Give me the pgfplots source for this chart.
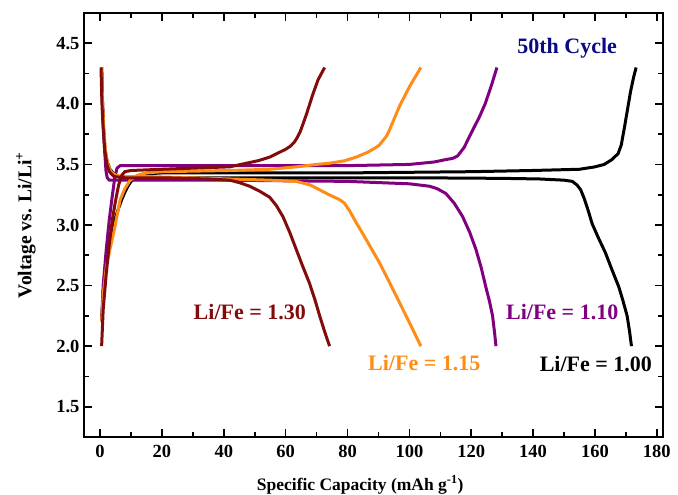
\documentclass[border=0pt]{standalone}
\usepackage{pgfplots}
\pgfplotsset{compat=1.18}
\usepackage{fontspec}
\setmainfont{Liberation Serif}
\definecolor{dred}{RGB}{130,12,12}
\definecolor{orng}{RGB}{255,140,20}
\definecolor{purp}{RGB}{128,0,128}
\definecolor{nvy}{RGB}{10,10,130}
\begin{document}
\begin{tikzpicture}
\path[use as bounding box] (-84pt,-58pt) rectangle (594pt,437pt);
\begin{axis}[
  at={(0pt,0pt)}, anchor=south west,
  scale only axis, width=579pt, height=424pt,
  xmin=-5.2, xmax=182, ymin=1.25, ymax=4.75,
  xtick={0,20,...,180}, minor x tick num=1,
  ytick={1.5,2.0,2.5,3.0,3.5,4.0,4.5}, minor y tick num=1,
  yticklabel style={/pgf/number format/fixed,/pgf/number format/fixed zerofill,/pgf/number format/precision=1, xshift=-1pt},
  xticklabel style={yshift=-5pt},
  /pgf/number format/assume math mode=true,
  tick label style={font=\fontsize{18.5}{18.5}\selectfont\bfseries},
  axis line style={line width=2pt},
  major tick length=8pt, minor tick length=5pt,
  every tick/.style={line width=1.6pt, black},
  xlabel={Specific Capacity (mAh g\textsuperscript{-1})},
  ylabel={Voltage vs. Li/Li\textsuperscript{+}},
  xlabel style={font=\fontsize{17.5}{17.5}\selectfont\bfseries, at={(axis description cs:0.477,0)}, anchor=center, yshift=-48pt},
  ylabel style={font=\fontsize{19.5}{19.5}\selectfont\bfseries, at={(axis description cs:0,0.5)}, anchor=center, yshift=58pt},
  every axis plot/.append style={line width=3pt, line join=round},
]
% Li/Fe = 1.00 charge
\addplot[black] coordinates {(0.5,2.2)(1,2.45)(2,2.68)(3,2.83)(4,2.96)(5,3.06)(6,3.14)(7,3.21)(8,3.27)(9,3.32)(10,3.36)(12,3.40)(14,3.42)(20,3.43)(40,3.43)(80,3.43)(120,3.44)(140,3.45)(155,3.46)(160,3.48)(163,3.50)(165.5,3.54)(167.5,3.59)(168.5,3.66)(169.5,3.80)(170.5,3.95)(171.5,4.10)(172.5,4.22)(173.3,4.30)};
% Li/Fe = 1.00 discharge
\addplot[black] coordinates {(0.5,4.30)(0.8,4.0)(1.1,3.8)(1.6,3.62)(2.3,3.52)(3.2,3.46)(4.5,3.42)(6,3.40)(9,3.39)(20,3.39)(60,3.39)(100,3.39)(130,3.385)(142,3.38)(150,3.37)(152.7,3.36)(154.2,3.33)(155.4,3.29)(156.5,3.22)(157.8,3.12)(159.1,3.01)(161,2.90)(163.4,2.77)(165.5,2.63)(167.7,2.49)(169,2.38)(170.4,2.25)(171.2,2.12)(171.8,2.0)};
% Li/Fe = 1.10 charge
\addplot[purp] coordinates {(0.5,2.2)(1,2.5)(2,2.8)(3,3.05)(4,3.25)(4.8,3.40)(5.5,3.47)(6.5,3.49)(10,3.49)(40,3.49)(80,3.49)(100,3.50)(108,3.52)(111.8,3.54)(114,3.55)(115.6,3.57)(116.5,3.60)(117.7,3.64)(120,3.76)(122.6,3.89)(124.5,4.0)(126.5,4.15)(128.3,4.30)};
% Li/Fe = 1.10 discharge
\addplot[purp] coordinates {(0.5,4.30)(0.8,4.0)(1.1,3.8)(1.5,3.6)(1.9,3.45)(2.3,3.39)(3,3.37)(5,3.37)(40,3.37)(80,3.36)(90,3.35)(100,3.34)(106.5,3.32)(109,3.30)(111.8,3.26)(114.5,3.18)(117.2,3.07)(119.5,2.94)(121.5,2.80)(123.2,2.65)(124.7,2.49)(125.9,2.37)(126.9,2.25)(127.5,2.12)(128,2.0)};
% Li/Fe = 1.15 charge
\addplot[orng] coordinates {(0.5,2.2)(1,2.42)(2,2.65)(3.2,2.8)(4.5,2.95)(5.5,3.08)(6.5,3.21)(8,3.30)(9.7,3.37)(12,3.41)(15,3.43)(20,3.44)(41.9,3.45)(55,3.46)(63.4,3.48)(70,3.50)(74.2,3.51)(79,3.53)(82.8,3.56)(86.5,3.60)(89.2,3.64)(90.3,3.66)(92.5,3.73)(93.5,3.78)(96.8,3.98)(100,4.14)(103.7,4.30)};
% Li/Fe = 1.15 discharge
\addplot[orng] coordinates {(0.5,4.30)(0.8,4.0)(1.2,3.8)(1.7,3.62)(2.5,3.50)(3.5,3.44)(5,3.41)(8,3.40)(15,3.40)(41.9,3.38)(55,3.37)(63.4,3.36)(68,3.33)(71,3.29)(74,3.25)(77.4,3.21)(79,3.18)(80.6,3.12)(82.8,3.02)(84.9,2.93)(87.6,2.81)(90.3,2.69)(93.5,2.53)(96.8,2.36)(100.3,2.18)(103.7,2.0)};
% Li/Fe = 1.30 charge
\addplot[dred] coordinates {(0.5,2.0)(1,2.3)(2,2.6)(3,2.85)(4,3.05)(5,3.2)(6,3.33)(7,3.41)(8,3.44)(10,3.45)(20,3.46)(41.9,3.48)(47.3,3.51)(51,3.53)(54.8,3.56)(58,3.60)(60,3.625)(61.5,3.65)(62.7,3.68)(63.7,3.72)(64.7,3.77)(65.7,3.84)(66.8,3.92)(68.8,4.08)(70.5,4.20)(72.6,4.30)};
% Li/Fe = 1.30 discharge
\addplot[dred] coordinates {(0.3,4.30)(0.6,4.0)(1,3.8)(1.5,3.62)(2.2,3.5)(3,3.44)(4.5,3.40)(8,3.39)(20,3.39)(35,3.38)(41.9,3.37)(45,3.35)(48.4,3.32)(51.5,3.28)(54.8,3.23)(57,3.16)(59.1,3.07)(61.3,2.94)(63.4,2.80)(65.5,2.66)(67.7,2.52)(69.5,2.38)(71,2.25)(72.6,2.12)(74.2,2.0)};
\node[font=\fontsize{22}{22}\selectfont\bfseries, text=nvy] at (axis cs:151,4.46) {50th Cycle};
\node[font=\fontsize{22}{22}\selectfont\bfseries, text=dred] at (axis cs:48.4,2.28) {Li/Fe = 1.30};
\node[font=\fontsize{22}{22}\selectfont\bfseries, text=orng] at (axis cs:104.8,1.86) {Li/Fe = 1.15};
\node[font=\fontsize{22}{22}\selectfont\bfseries, text=purp] at (axis cs:149.4,2.28) {Li/Fe = 1.10};
\node[font=\fontsize{22}{22}\selectfont\bfseries, text=black] at (axis cs:160.3,1.85) {Li/Fe = 1.00};
\end{axis}
\end{tikzpicture}
\end{document}
